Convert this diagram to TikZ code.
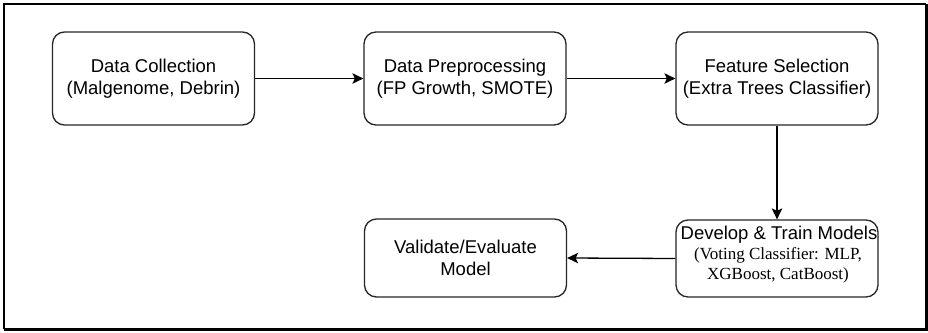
\documentclass[tikz,border=0pt]{standalone}
\usepackage{fontspec}
\setmainfont{Liberation Sans}
\newfontfamily\timesfont{Liberation Serif}
\usetikzlibrary{arrows.meta}
\begin{document}
\begin{tikzpicture}[x=1pt,y=-1pt,
  procbox/.style={draw=black!85, line width=1.3pt, rounded corners=12pt, fill=white,
    minimum width=202pt, minimum height=93pt, inner sep=0pt, align=center,
    font=\fontsize{18.5}{22}\selectfont},
  flow/.style={draw=black, line width=1.3pt, -{Stealth[length=11pt,width=10.5pt,inset=2.5pt]}}]
\useasboundingbox (0,0) rectangle (928,332);
\fill[white] (0,0) rectangle (928,332);
\draw[line width=2pt] (4,329) -- (4,4) -- (926,4);
\draw[line width=3pt] (926,4) -- (926,329.5) -- (4,329.5);
\node[procbox] (dc) at (153.5,78.5) {Data Collection\\(Malgenome, Debrin)};
\node[procbox] (dp) at (465,78.5) {Data Preprocessing\\(FP Growth, SMOTE)};
\node[procbox] (fs) at (777,78.5) {Feature Selection\\(Extra Trees Classifier)};
\node[procbox, minimum height=77pt] (dt) at (777,258.5) {};
\node[font=\fontsize{18.5}{20}\selectfont, inner sep=0pt, anchor=center] (dtl1) at (779,235) {Develop \& Train Models};
\node[font=\timesfont\fontsize{17}{20}\selectfont, inner sep=0pt, align=center] (dtl2) at (778,265) {(Voting Classifier: MLP,\\XGBoost, CatBoost)};
\node[procbox, minimum height=78pt] (ve) at (465.5,258) {Validate/Evaluate\\Model};
\draw[flow] (dc.east) -- (dp.west);
\draw[flow] (dp.east) -- (fs.west);
\draw[flow] (fs.south) -- (dt.north);
\draw[flow] (dt.west) -- (ve.east);
\end{tikzpicture}
\end{document}
